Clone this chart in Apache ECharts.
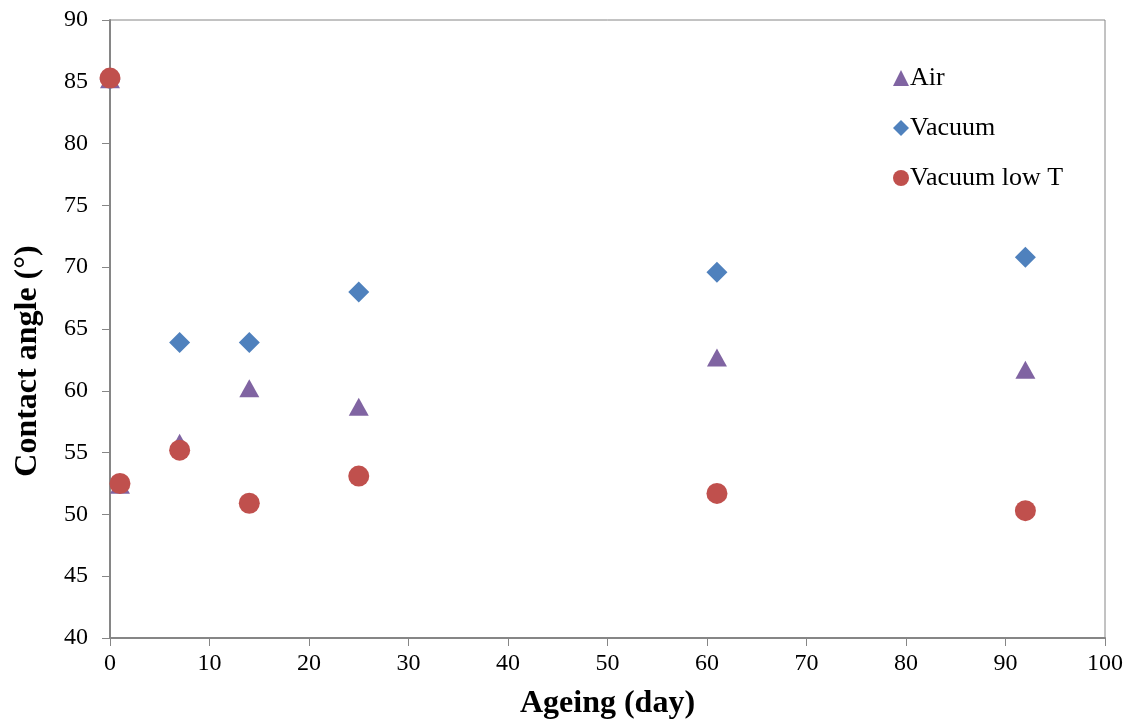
<!DOCTYPE html>
<html>
<head>
<meta charset="utf-8">
<script src="https://cdn.jsdelivr.net/npm/echarts@6/dist/echarts.min.js"></script>
<style>
  html, body { margin: 0; padding: 0; background: #fff; }
  #chart { width: 1125px; height: 723px; }
</style>
</head>
<body>
<div id="chart"></div>
<script>
// ageing days and contact angles
const airDays = [0, 1, 7, 14, 25, 61, 92];
const airAngle = [85.2, 52.4, 55.8, 60.2, 58.7, 62.7, 61.7];
const vacuumDays = [0, 7, 14, 25, 61, 92];
const vacuumAngle = [85.2, 63.9, 63.9, 68.0, 69.6, 70.8];
const lowTDays = [0, 1, 7, 14, 25, 61, 92];
const lowTAngle = [85.3, 52.5, 55.2, 50.9, 53.1, 51.7, 50.3];

const font = "'Liberation Serif', 'Times New Roman', serif";
const axisGrey = "#868686";

function pairs(xs, ys) {
  return xs.map((x, i) => [x, ys[i]]);
}

let myChart = echarts.init(document.getElementById("chart"));
myChart.setOption({
  animation: false,
  textStyle: { fontFamily: font },
  grid: {
    left: 110,
    right: 20,
    top: 20,
    bottom: 85,
    outerBoundsMode: "none",
    containLabel: false,
    show: true,
    borderColor: axisGrey,
    borderWidth: 1
  },
  legend: {
    orient: "vertical",
    left: 888,
    top: 60,
    itemGap: 24,
    itemWidth: 16,
    itemHeight: 16,
    textStyle: { fontFamily: font, fontSize: 26, color: "#000", padding: [0, 0, 0, -4] },
    data: ["Air", "Vacuum", "Vacuum low T"]
  },
  xAxis: {
    type: "value",
    min: 0,
    max: 100,
    interval: 10,
    name: "Ageing (day)",
    nameLocation: "middle",
    nameGap: 50,
    nameTextStyle: { fontFamily: font, fontSize: 32, fontWeight: "bold", color: "#000" },
    axisLine: { show: true, lineStyle: { color: axisGrey, width: 2 } },
    axisTick: { show: true, inside: false, length: 8, lineStyle: { color: axisGrey } },
    axisLabel: { fontFamily: font, fontSize: 24, color: "#000", margin: 14 },
    splitLine: { show: false }
  },
  yAxis: {
    type: "value",
    min: 40,
    max: 90,
    interval: 5,
    name: "Contact angle (°)",
    nameLocation: "middle",
    nameGap: 66,
    nameTextStyle: {
      fontFamily: font, fontSize: 32, fontWeight: "bold", color: "#000",
      padding: [0, 64, 0, 0]
    },
    axisLine: { show: true, lineStyle: { color: axisGrey, width: 2 } },
    axisTick: { show: true, inside: false, length: 8, lineStyle: { color: axisGrey } },
    axisLabel: { fontFamily: font, fontSize: 24, color: "#000", margin: 22 },
    splitLine: { show: false }
  },
  series: [
    {
      name: "Air",
      type: "scatter",
      symbol: "triangle",
      symbolSize: [20, 18],
      itemStyle: { color: "#8064A2", opacity: 1 },
      data: pairs(airDays, airAngle)
    },
    {
      name: "Vacuum",
      type: "scatter",
      symbol: "diamond",
      symbolSize: 21,
      itemStyle: { color: "#4F81BD", opacity: 1 },
      data: pairs(vacuumDays, vacuumAngle)
    },
    {
      name: "Vacuum low T",
      type: "scatter",
      symbol: "circle",
      symbolSize: 21,
      itemStyle: { color: "#C0504D", opacity: 1 },
      data: pairs(lowTDays, lowTAngle)
    }
  ]
});
</script>
</body>
</html>
